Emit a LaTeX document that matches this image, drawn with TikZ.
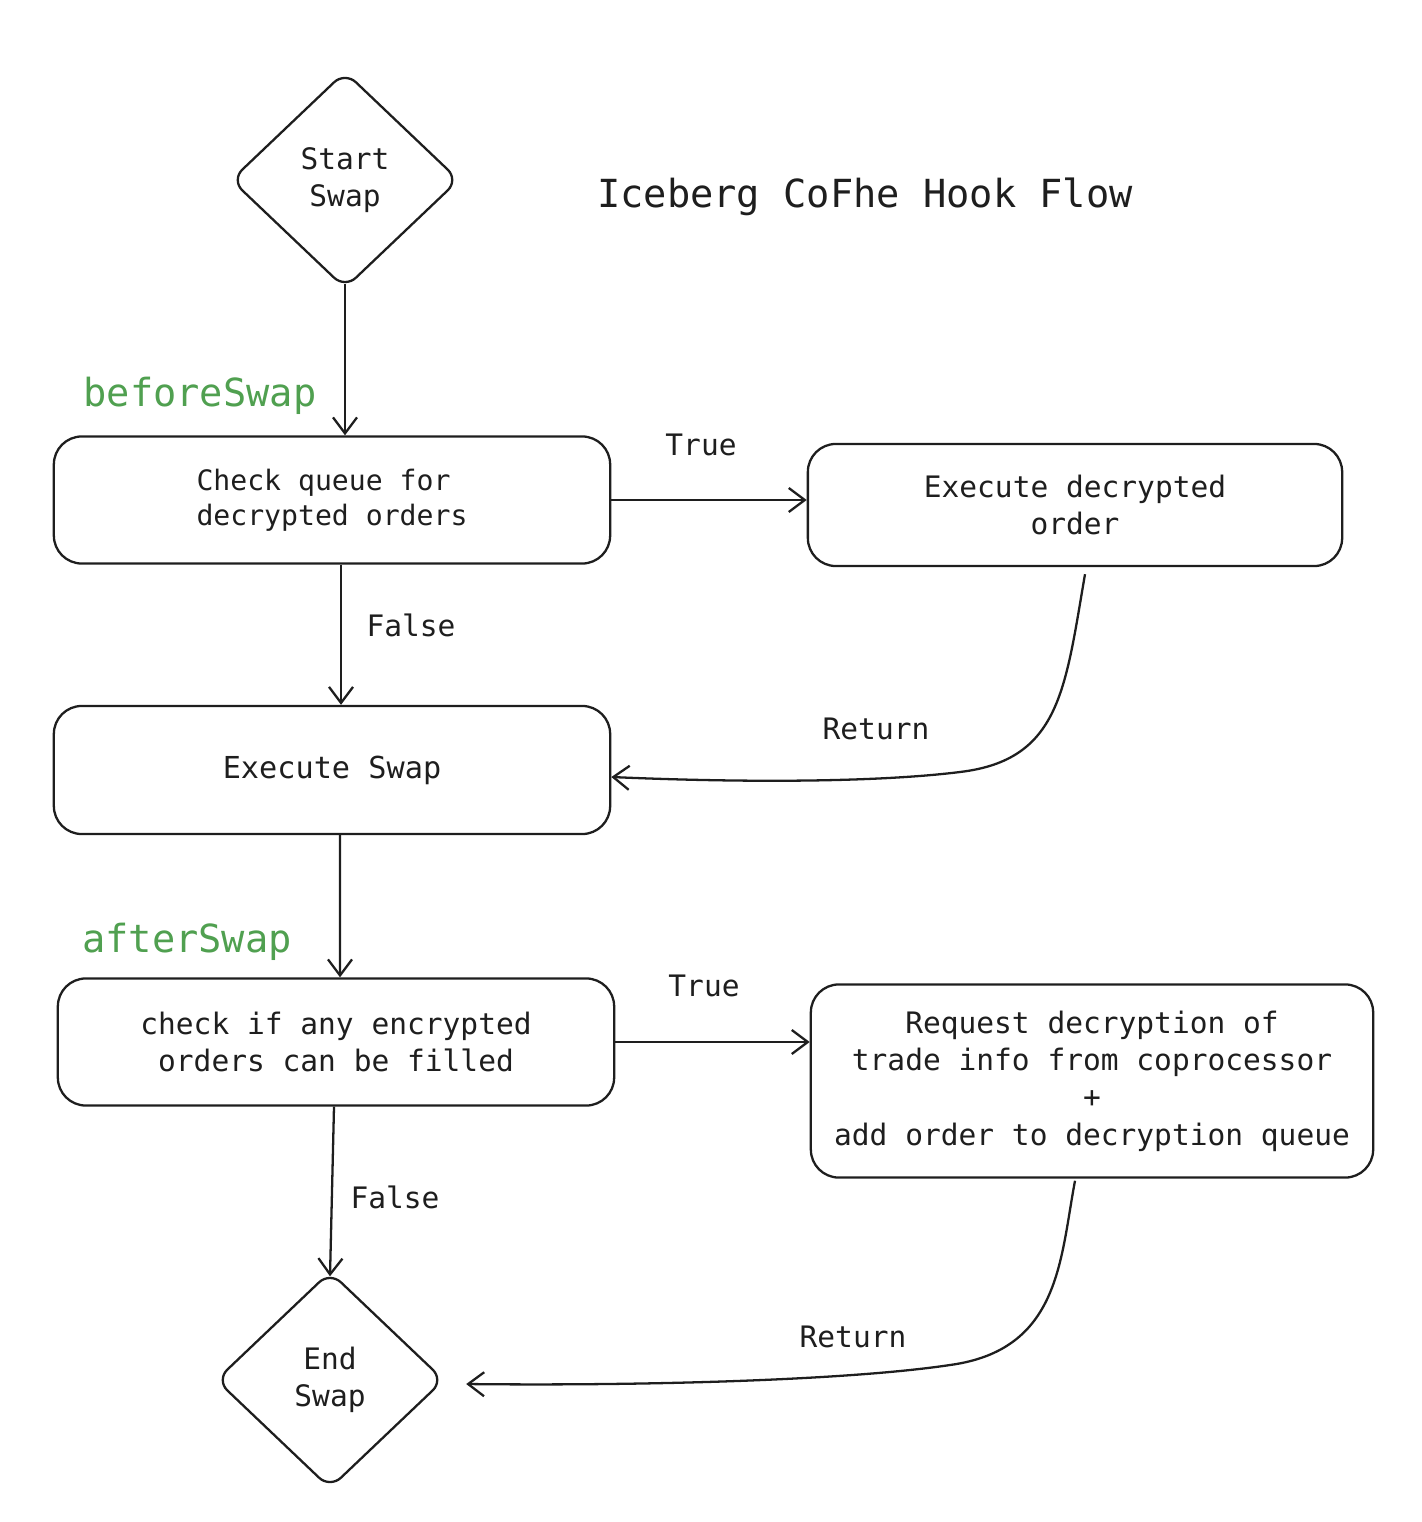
\documentclass[tikz,border=0pt]{standalone}
\usepackage{fontspec}
\setmonofont{DejaVu Sans Mono}
\usetikzlibrary{shapes.geometric,arrows.meta}
\definecolor{ink}{RGB}{30,30,30}
\definecolor{hookgreen}{RGB}{80,160,80}

\begin{document}
\begin{tikzpicture}[x=0.01cm,y=-0.01cm,
every node/.style={font=\ttfamily\fontsize{8.4}{10.6}\selectfont, text=ink},
box/.style={draw=ink, line width=0.65pt, rounded corners=0.28cm, align=center},
dia/.style={draw=ink, line width=0.65pt, diamond, rounded corners=0.15cm, align=center,
            inner sep=0pt, minimum width=2.28cm, minimum height=2.17cm},
flow/.style={draw=ink, line width=0.65pt, -{Straight Barb[length=1.6mm,width=2.4mm]}},
big/.style={font=\ttfamily\fontsize{11}{13}\selectfont},
hook/.style={big, text=hookgreen}]
\useasboundingbox (0,0) rectangle (1422,1522);

% shapes
\node[dia] (start) at (345,180) {Start\\Swap};
\node[big] (title) at (865,197) {Iceberg CoFhe Hook Flow};
\node[hook] (before) at (200,396) {beforeSwap};
\node[box, minimum width=5.56cm, minimum height=1.27cm, align=left, font=\ttfamily\fontsize{8}{10}\selectfont] (chk) at (332,500) {Check queue for\\decrypted orders};
\node[box, minimum width=5.34cm, minimum height=1.22cm] (execdec) at (1075,505) {Execute decrypted\\order};
\node[box, minimum width=5.56cm, minimum height=1.28cm, font=\ttfamily\fontsize{8.6}{10.6}\selectfont] (swap) at (332,770) {Execute Swap};
\node[hook] (after) at (187,942) {afterSwap};
\node[box, minimum width=5.56cm, minimum height=1.27cm] (fill) at (336,1042) {check if any encrypted\\orders can be filled};
\node[box, minimum width=5.62cm, minimum height=1.93cm] (req) at (1092,1081) {Request decryption of\\trade info from coprocessor\\+\\add order to decryption queue};
\node[dia] (finish) at (330,1380) {End\\Swap};

% labels on the connectors
\foreach \n/\x/\y/\t in {t1/701/445/True, f1/411/625/False, r1/876/729/Return,
                          t2/704/986/True, f2/395/1197/False, r2/853/1337/Return}
    \node (\n) at (\x,\y) {\t};

% connectors
\draw[flow] ([yshift=0.06cm]start.south) -- (start.south |- chk.north);
\draw[flow] (chk.east) -- (chk.east -| execdec.west);
\draw[flow] ([xshift=0.09cm]chk.south) -- ([xshift=0.09cm]swap.north);
\draw[flow] ([xshift=0.08cm]swap.south) -- ([xshift=0.04cm]fill.north);
\draw[flow] (fill.east) -- (fill.east -| req.west);
\draw[flow] ([xshift=-0.02cm]fill.south) -- ([yshift=-0.06cm]finish.north);
\draw[flow] ([shift={(10,7)}]execdec.south) .. controls (1065,690) and (1060,760) .. (960,772)
    .. controls (880,782) and (750,783) .. ([yshift=-0.07cm]swap.east);
\draw[flow] ([shift={(-17,2)}]req.south) .. controls (1060,1260) and (1060,1350) .. (950,1365)
    .. controls (850,1380) and (650,1386) .. ([shift={(21,4)}]finish.east);
\end{tikzpicture}
\end{document}
